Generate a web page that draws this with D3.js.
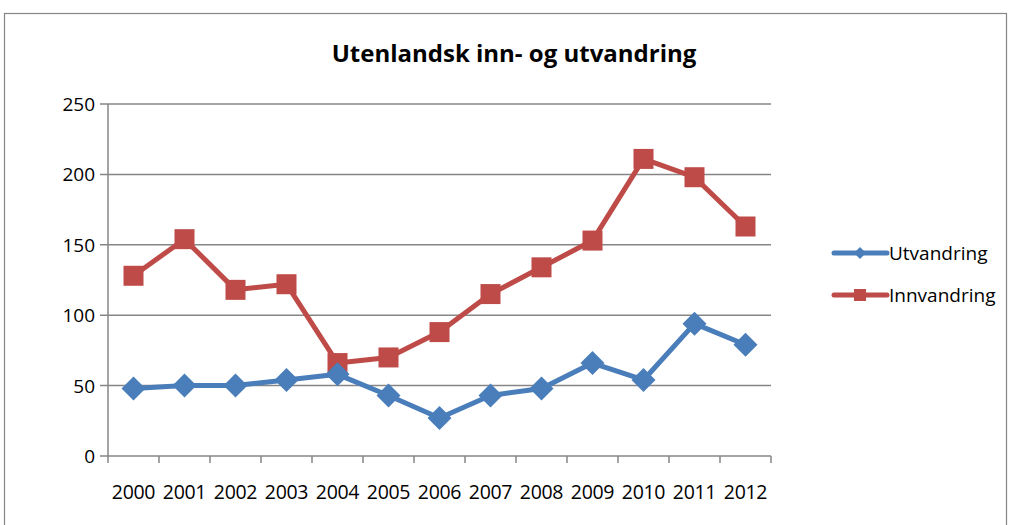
<!DOCTYPE html>
<html><head><meta charset="utf-8">
<script src="https://cdn.jsdelivr.net/npm/d3@7"></script>
<style>body{margin:0;background:#fff}svg{display:block}text{font-family:"Open Sans","Liberation Sans",sans-serif}</style>
</head><body><svg id="c" width="1009" height="525"></svg>
<script>
const years = ["2000","2001","2002","2003","2004","2005","2006","2007","2008","2009","2010","2011","2012"];
const utvandring = [48,50,50,54,58,43,27,43,48,66,54,94,79];
const innvandring = [128,154,118,122,66,70,88,115,134,153,211,198,163];
const yTicks = [0,50,100,150,200,250];
const title = "Utenlandsk inn- og utvandring";
const seriesNames = ["Utvandring","Innvandring"];

const svg = d3.select("#c");
svg.append("rect").attr("x",4.5).attr("y",13.5).attr("width",1002).attr("height",520)
  .attr("fill","#fff").attr("stroke","#868686").attr("stroke-width",1.2);

const L=108,R=771,T=104,B=456;
const x = d3.scaleBand().domain(years).range([L,R]);
const y = d3.scaleLinear().domain([0,250]).range([B,T]);

svg.append("text").attr("x",514).attr("y",62).attr("text-anchor","middle")
  .attr("font-size",24).attr("font-weight","bold").attr("fill","#000").text(title);

const g = svg.append("g");
g.selectAll("line.grid").data(yTicks).join("line")
  .attr("x1",L-8).attr("x2",R).attr("y1",d=>y(d)).attr("y2",d=>y(d))
  .attr("stroke","#868686").attr("stroke-width",1.5);
g.selectAll("text.yl").data(yTicks).join("text")
  .attr("x",L-13).attr("y",d=>y(d)+7).attr("text-anchor","end")
  .attr("font-size",19).attr("fill","#000").text(d=>d);
g.append("line").attr("x1",L).attr("x2",L).attr("y1",T).attr("y2",B).attr("stroke","#868686").attr("stroke-width",1.5);
const xt = years.map(d=>x(d)).concat([R]);
g.selectAll("line.xt").data(xt).join("line")
  .attr("x1",d=>d).attr("x2",d=>d).attr("y1",B).attr("y2",B+7)
  .attr("stroke","#868686").attr("stroke-width",1.5);
g.selectAll("text.xl").data(years).join("text")
  .attr("x",d=>x(d)+x.bandwidth()/2).attr("y",B+43).attr("text-anchor","middle")
  .attr("font-size",19.5).attr("letter-spacing",-0.3).attr("fill","#000").text(d=>d);

const cx = d=>x(d)+x.bandwidth()/2;
const line = d3.line().x((d,i)=>cx(years[i])).y(d=>y(d));
const blue="#4A7EBB", red="#BE4B48";

svg.append("path").datum(innvandring).attr("d",line).attr("fill","none").attr("stroke",red).attr("stroke-width",5).attr("stroke-linejoin","round");
svg.selectAll("rect.sq").data(innvandring).join("rect")
  .attr("x",(d,i)=>cx(years[i])-10).attr("y",d=>y(d)-10).attr("width",20).attr("height",20).attr("fill",red);

svg.append("path").datum(utvandring).attr("d",line).attr("fill","none").attr("stroke",blue).attr("stroke-width",5).attr("stroke-linejoin","round");
const diamond = (cxv,cyv,r)=>`M${cxv},${cyv-r}L${cxv+r},${cyv}L${cxv},${cyv+r}L${cxv-r},${cyv}Z`;
svg.selectAll("path.dm").data(utvandring).join("path")
  .attr("d",(d,i)=>diamond(cx(years[i]),y(d),12)).attr("fill",blue);

const leg = [{n:seriesNames[0],c:blue,yy:253,m:"d"},{n:seriesNames[1],c:red,yy:295,m:"s"}];
leg.forEach(l=>{
  svg.append("line").attr("x1",834).attr("x2",887).attr("y1",l.yy).attr("y2",l.yy).attr("stroke",l.c).attr("stroke-width",5).attr("stroke-linecap","round");
  if(l.m==="d") svg.append("path").attr("d",diamond(860,l.yy,6)).attr("fill",l.c);
  else svg.append("rect").attr("x",854).attr("y",l.yy-6).attr("width",12).attr("height",12).attr("fill",l.c);
  svg.append("text").attr("x",889).attr("y",l.yy+7).attr("font-size",19).attr("fill","#000").text(l.n);
});
</script></body></html>
